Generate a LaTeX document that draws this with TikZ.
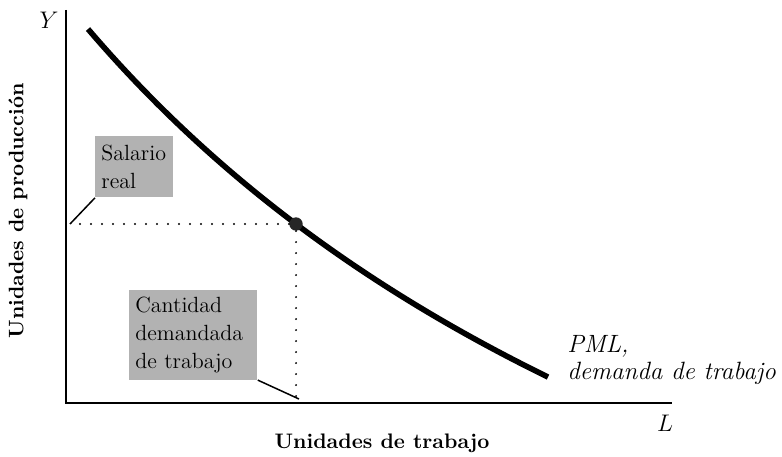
\documentclass[tikz,border=0pt]{standalone}
\usetikzlibrary{positioning}
\begin{document}
\begin{tikzpicture}[x=0.5pt,y=0.5pt,
  eje/.style={line width=0.75pt},
  curva/.style={line width=2.8pt},
  punteado/.style={line width=1.1pt,line cap=round,dash pattern=on 0pt off 5.5pt},
  caja/.style={fill=black!30,anchor=north west,align=left,inner xsep=3pt,
    font=\fontsize{11}{14}\selectfont},
  titulo/.style={font=\fontsize{10.5}{12}\selectfont\bfseries}]

\useasboundingbox (0,0) rectangle (782,456);

% ejes
\coordinate (O) at (66,53);
\coordinate (ytop) at (66,446);
\coordinate (xend) at (672,53);
\draw[eje] (ytop) -- (O) -- (xend);
\node[font=\fontsize{12}{14}\selectfont] (ylab) at (49,436) {$Y$};
\node[font=\fontsize{12}{14}\selectfont] (llab) at (665,33) {$L$};
\node[titulo] (xtitle) at (382,13) {Unidades de trabajo};
\node[titulo,rotate=90] (ytitle) at (18,245) {Unidades de producción};

% curva PML
\draw[curva] plot[domain=88:548,samples=60] (\x,{-560.6+8348.85/((\x+757.4)/100)});
\node[circle,fill=black!85,inner sep=0pt,minimum size=6.7pt] (eq) at (296,232) {};

\coordinate (ysal) at (70,232);
\coordinate (xcant) at (296,56);
\draw[punteado] (eq) -- (ysal);
\draw[punteado] (eq) -- (xcant);

% cajas
\node[caja,text width=33pt,minimum height=30.5pt] (salario) at (95,320) {Salario\\real};
\node[caja,text width=58pt,minimum height=43pt] (cantidad) at (129,166) {Cantidad\\demandada\\de trabajo};
\coordinate (xcant2) at (299,57);
\draw[eje] (salario.south west) -- (ysal);
\draw[eje] (cantidad.south east) -- (xcant2);

\node[anchor=north west,align=left,inner sep=0pt,font=\fontsize{12.5}{13.5}\selectfont\itshape] (pml) at (567,121) {PML,\\demanda de trabajo};

\end{tikzpicture}
\end{document}
